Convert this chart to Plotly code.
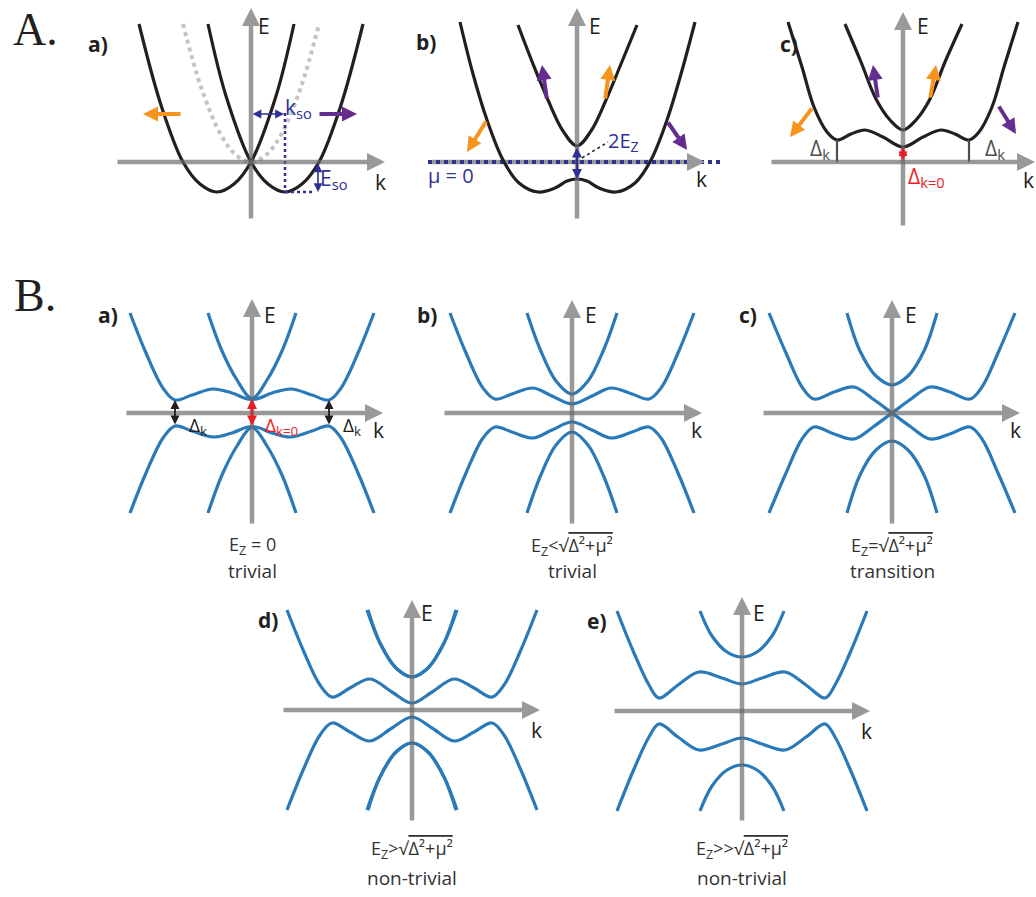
import plotly.graph_objects as go

W, H = 1036, 897
FONT = "Open Sans"
SERIF = "Liberation Serif"
INK = "#231f20"
NAVY = "#2e3192"
PURPLE = "#662d91"
ORANGE = "#f7941d"
RED = "#ed1c24"
BAND = "#2a7ab9"
GREY_DOT = "#c4c4c4"
AXIS = "rgba(105,105,105,0.68)"
DARKGRAY = "#4d4d4d"

# ---------------- data (momentum k, energy E, panel units) ----------------
# A.a : spin-orbit split parabolas and the unsplit band
Aa_left_k = [-112, -90, -68, -51, -34, -17, 0, 25, 43]
Aa_left_E = [138, 57, 0, -22, -30, -22, 0, 66, 138]
Aa_right_k = [-43, -25, 0, 17, 34, 51, 68, 90, 112]
Aa_right_E = [138, 66, 0, -22, -30, -22, 0, 57, 138]
Aa_free_k = [-68, -50, -30, -15, 0, 15, 30, 50, 68]
Aa_free_E = [138, 75, 27, 7, 0, 7, 27, 75, 138]
Aa_kso_k = [34, 34]
Aa_kso_E = [49, -30]
Aa_eso_k = [34, 64]
Aa_eso_E = [-30, -30]

# A.b : with Zeeman field
Ab_upper_k = [-59, -44, -29, -14, 0, 14, 29, 44, 60]
Ab_upper_E = [137, 98, 62, 31, 16, 31, 62, 98, 137]
Ab_lower_k = [-117, -104, -90, -74, -58, -39, -22, -10, 0, 10, 22, 39, 58, 74, 90, 104, 118]
Ab_lower_E = [140, 88, 42, 2, -21, -30, -26, -19, -17, -19, -26, -30, -21, 2, 42, 88, 140]
Ab_mu_k = [-149, 145]
Ab_mu_E = [0, 0]

# A.c : with superconducting pairing
Ac_upper_k = [-58, -42, -27, -13, 0, 13, 27, 42, 59]
Ac_upper_E = [138, 100, 63, 42, 32, 42, 63, 100, 138]
Ac_lower_k = [-115, -101, -89, -76, -66, -52, -38, -20, 0, 20, 38, 52, 66, 76, 89, 101, 115]
Ac_lower_E = [140, 95, 55, 30, 22, 28, 32, 25, 15, 25, 32, 28, 22, 30, 55, 95, 140]
Ac_gap_k = [-66, 66]
Ac_gap_E = [22, 22]

# B panels: upper BdG bands (lower ones follow from particle-hole symmetry)
Ba_cross_k = [-122, -106, -89, -77, -60, -39, -20, 0, 15, 30, 44]
Ba_cross_E = [100, 60, 25, 13, 18, 24, 20, 14, 33, 62, 100]
Ba_gap_E = [13, 14]  # Delta_k, Delta_k=0

Bb_W_k = [-122, -106, -89, -77, -60, -39, -20, 0, 20, 39, 60, 77, 89, 106, 122]
Bb_W_E = [100, 60, 25, 14, 19, 25, 17, 9, 17, 25, 19, 14, 25, 60, 100]
Bb_U_k = [-45, -32, -16, 0, 16, 32, 45]
Bb_U_E = [100, 64, 32, 19, 32, 64, 100]

Bc_cross_k = [-123, -106, -90, -78, -58, -38, -19, 0, 19, 38, 58, 78, 90, 106, 123]
Bc_cross_E = [100, 60, 26, 14, 21, 26, 14, 0, -14, -26, -21, -14, -26, -60, -100]
Bc_U_k = [-45, -32, -16, 0, 16, 32, 45]
Bc_U_E = [100, 62, 37, 28, 37, 62, 100]

Bd_W_k = [-125, -108, -92, -80, -62, -42, -20, 0, 20, 42, 62, 80, 92, 108, 125]
Bd_W_E = [100, 58, 25, 13, 22, 31, 18, 7, 18, 31, 22, 13, 25, 58, 100]
Bd_U_k = [-45, -32, -16, 0, 16, 32, 44]
Bd_U_E = [100, 67, 42, 33, 42, 67, 100]

Be_W_k = [-125, -108, -93, -83, -64, -43, -20, 0, 20, 43, 64, 83, 93, 108, 125]
Be_W_E = [100, 58, 26, 13, 26, 39, 33, 27, 33, 39, 26, 13, 26, 58, 100]
Be_U_k = [-42, -30, -15, 0, 15, 30, 42]
Be_U_E = [100, 75, 59, 54, 59, 75, 100]

B_curves = {
    "Ba": [(Ba_cross_k, Ba_cross_E)],
    "Bb": [(Bb_W_k, Bb_W_E), (Bb_U_k, Bb_U_E)],
    "Bc": [(Bc_cross_k, Bc_cross_E), (Bc_U_k, Bc_U_E)],
    "Bd": [(Bd_W_k, Bd_W_E), (Bd_U_k, Bd_U_E)],
    "Be": [(Be_W_k, Be_W_E), (Be_U_k, Be_U_E)],
}

SQ = "√<span style='text-decoration:overline'>Δ²+μ²</span>"
B_captions = {
    "Ba": ("E<sub>Z</sub> = 0", "trivial"),
    "Bb": ("E<sub>Z</sub>&lt;" + SQ, "trivial"),
    "Bc": ("E<sub>Z</sub>=" + SQ, "transition"),
    "Bd": ("E<sub>Z</sub>&gt;" + SQ, "non-trivial"),
    "Be": ("E<sub>Z</sub>&gt;&gt;" + SQ, "non-trivial"),
}

# ---------------- layout of panels (pixel origin of each k/E frame) ----------------
order = ["Aa", "Ab", "Ac", "Ba", "Bb", "Bc", "Bd", "Be"]
origin = {"Aa": (251, 162), "Ab": (577, 162), "Ac": (903, 162),
          "Ba": (252, 413), "Bb": (572, 413), "Bc": (892, 413),
          "Bd": (412, 710), "Be": (742, 711)}
axes_ext = {  # (k_left, k_tip, E_bottom, E_tip)
    "Aa": (-135, 134, -58, 154), "Ab": (-145, 128, -58, 154), "Ac": (-133, 132, -65, 150),
    "Ba": (-127, 131, -112, 114), "Bb": (-129, 130, -112, 113), "Bc": (-130, 128, -112, 113),
    "Bd": (-130, 128, -112, 110), "Be": (-129, 128, -111, 114),
}
letters = {"Aa": ("a)", -153, 118), "Ab": ("b)", -151, 120), "Ac": ("c)", -114, 118),
           "Ba": ("a)", -144, 98), "Bb": ("b)", -145, 98), "Bc": ("c)", -144, 98),
           "Bd": ("d)", -144, 90), "Be": ("e)", -145, 90)}
Elabel = {"Aa": (13, 136), "Ab": (18, 136), "Ac": (20, 136),
          "Ba": (18, 98), "Bb": (19, 98), "Bc": (19, 98), "Bd": (15, 97), "Be": (17, 98)}
klabel = {"Aa": (129, -20), "Ab": (124, -17), "Ac": (125, -18),
          "Ba": (126, -17), "Bb": (124, -17), "Bc": (123, -17), "Bd": (124, -20), "Be": (124, -20)}

fig = go.Figure()
layout = {}
ref = {}
for i, p in enumerate(order, 1):
    cx, cy = origin[p]
    kmin, kmax = max(-165, -cx), min(165, W - cx)
    if p[0] == "A":
        Emin, Emax = -75, min(165, cy)
    else:
        Emin, Emax = -182, 125
    layout[f"xaxis{i}"] = dict(domain=[(cx + kmin) / W, (cx + kmax) / W], range=[kmin, kmax],
                               visible=False, fixedrange=True, anchor=f"y{i}")
    layout[f"yaxis{i}"] = dict(domain=[1 - (cy - Emin) / H, 1 - (cy - Emax) / H], range=[Emin, Emax],
                               visible=False, fixedrange=True, anchor=f"x{i}")
    ref[p] = (f"x{i}", f"y{i}")

annotations = []


def line(p, k, E, color, width, dash=None, shape="spline"):
    xr, yr = ref[p]
    fig.add_trace(go.Scatter(x=k, y=E, mode="lines", xaxis=xr, yaxis=yr, hoverinfo="skip",
                             showlegend=False,
                             line=dict(color=color, width=width, dash=dash, shape=shape)))


def arrow(p, k0, E0, k1, E1, color, width, head=2, size=1.0, both=False):
    xr, yr = ref[p]
    annotations.append(dict(x=k1, y=E1, ax=k0, ay=E0, xref=xr, yref=yr, axref=xr, ayref=yr,
                            text="", showarrow=True, arrowhead=head, arrowsize=size,
                            arrowwidth=width, arrowcolor=color, standoff=0, startstandoff=0,
                            arrowside="end+start" if both else "end",
                            startarrowhead=head, startarrowsize=size))


def text(p, k, E, s, size=20, color=INK, xanchor="center", family=FONT):
    xr, yr = ref[p]
    annotations.append(dict(x=k, y=E, xref=xr, yref=yr, text=s, showarrow=False,
                            xanchor=xanchor, yanchor="middle", borderpad=0,
                            font=dict(family=family, size=size, color=color)))


# ---------------- panel A.a ----------------
line("Aa", Aa_free_k, Aa_free_E, GREY_DOT, 4, dash="dot")
line("Aa", Aa_left_k, Aa_left_E, INK, 3.2)
line("Aa", Aa_right_k, Aa_right_E, INK, 3.2)
line("Aa", Aa_kso_k, Aa_kso_E, NAVY, 2.5, dash="dot", shape="linear")
line("Aa", Aa_eso_k, Aa_eso_E, NAVY, 2.5, dash="dot", shape="linear")

# ---------------- panel A.b ----------------
xr, yr = ref["Ab"]
fig.add_trace(go.Scatter(x=[-145, 118], y=[0, 0], mode="lines", xaxis=xr, yaxis=yr,
                         hoverinfo="skip", showlegend=False,
                         line=dict(color="#9a9a9a", width=4.5)))
line("Ab", Ab_mu_k, Ab_mu_E, NAVY, 4, dash="dot", shape="linear")
line("Ab", Ab_upper_k, Ab_upper_E, INK, 3.2)
line("Ab", Ab_lower_k, Ab_lower_E, INK, 3.2)
line("Ab", [5, 31], [4, 20], INK, 1.5, dash="dot", shape="linear")

# ---------------- panel A.c ----------------
line("Ac", Ac_upper_k, Ac_upper_E, INK, 3.2)
line("Ac", Ac_lower_k, Ac_lower_E, INK, 3.2)
for kk, ee in zip(Ac_gap_k, Ac_gap_E):
    line("Ac", [kk, kk], [0, ee], DARKGRAY, 2.2, shape="linear")

# ---------------- B panels ----------------
for p, curves in B_curves.items():
    seen = set()
    for k, E in curves:
        for sk, sE in ((1, 1), (-1, 1), (1, -1), (-1, -1)):
            kk = [sk * v for v in k]
            EE = [sE * v for v in E]
            key = frozenset(zip(kk, EE))
            if key in seen:
                continue
            seen.add(key)
            line(p, kk, EE, BAND, 3.2)

# ---------------- axes (arrows) ----------------
for p in order:
    k0, k1, e0, e1 = axes_ext[p]
    if p == "Ab":
        arrow(p, 112, 0, k1, 0, "#9a9a9a", 4.5, 2, 0.8)
    else:
        arrow(p, k0, 0, k1, 0, AXIS, 4.5, 2, 0.8)
    arrow(p, 0, e0, 0, e1, AXIS, 4.5, 2, 0.8)

# ---------------- A annotations ----------------
arrow("Aa", -69, 48, -108, 48, ORANGE, 4, 2, 0.75)
arrow("Aa", 67, 48, 106, 48, PURPLE, 4, 2, 0.75)
arrow("Aa", 0, 48, 33, 48, NAVY, 1.6, 2, 1.1, both=True)
arrow("Aa", 67, 0, 67, -30, NAVY, 1.6, 2, 1.1, both=True)
text("Aa", 33, 54, "k<sub>so</sub>", 21, NAVY, "left")
text("Aa", 68, -17, "E<sub>so</sub>", 21, NAVY, "left")

arrow("Ab", -90, 42, -110, 10, ORANGE, 4, 2, 0.75)
arrow("Ab", 90, 41, 110, 12, PURPLE, 4, 2, 0.75)
arrow("Ab", -30, 62, -35, 97, PURPLE, 4, 2, 0.75)
arrow("Ab", 28, 62, 33, 97, ORANGE, 4, 2, 0.75)
arrow("Ab", 0, 16, 0, -17, NAVY, 2, 2, 1.0, both=True)
text("Ab", 30, 21, "2E<sub>Z</sub>", 20, NAVY, "left")
text("Ab", -150, -13, "μ = 0", 20, NAVY, "left")

arrow("Ac", -90, 55, -113, 25, ORANGE, 4, 2, 0.75)
arrow("Ac", 95, 57, 113, 28, PURPLE, 4, 2, 0.75)
arrow("Ac", -25, 63, -30, 97, PURPLE, 4, 2, 0.75)
arrow("Ac", 27, 63, 33, 97, ORANGE, 4, 2, 0.75)
arrow("Ac", 0, 0, 0, 15, RED, 2, 2, 0.9, both=True)
text("Ac", -94, 13, "Δ<sub>k</sub>", 21, DARKGRAY, "left")
text("Ac", 81, 13, "Δ<sub>k</sub>", 21, DARKGRAY, "left")
text("Ac", 4, -15, "Δ<sub>k=0</sub>", 21, RED, "left")

# ---------------- B.a gap markers ----------------
for kk in (-77, 77):
    arrow("Ba", kk, -Ba_gap_E[0], kk, Ba_gap_E[0], INK, 1.8, 2, 1.0, both=True)
arrow("Ba", 0, -Ba_gap_E[1], 0, Ba_gap_E[1], RED, 2, 2, 1.0, both=True)
text("Ba", -64, -13, "Δ<sub>k</sub>", 19, INK, "left")
text("Ba", 90, -13, "Δ<sub>k</sub>", 19, INK, "left")
text("Ba", 12, -13, "Δ<sub>k=0</sub>", 19, RED, "left")

# ---------------- labels ----------------
for p in order:
    s, kk, ee = letters[p]
    text(p, kk, ee, "<b>" + s + "</b>", 21, INK)
    text(p, *Elabel[p], "E", 21, INK)
    text(p, *klabel[p], "k", 21, INK)

cap_E = {"Ba": (-132, -158), "Bb": (-133, -158), "Bc": (-133, -158),
         "Bd": (-139, -168), "Be": (-138, -167)}
for p, (l1, l2) in B_captions.items():
    e1, e2 = cap_E[p]
    text(p, 0, e1, l1, 18, "#333333")
    text(p, 0, e2, l2, 19, "#333333")

for s, px, py in (("A.", 35, 30), ("B.", 35, 295)):
    annotations.append(dict(x=px / W, y=1 - py / H, xref="paper", yref="paper", text=s,
                            showarrow=False, xanchor="center", yanchor="middle",
                            font=dict(family=SERIF, size=46, color=INK)))

fig.update_layout(**layout)
fig.update_layout(width=W, height=H, margin=dict(l=0, r=0, t=0, b=0),
                  paper_bgcolor="white", plot_bgcolor="rgba(0,0,0,0)",
                  showlegend=False, annotations=annotations)
fig.write_html("out.html", config={"displayModeBar": False},
               post_script="document.body.style.margin='0';document.body.style.overflow='hidden';")
